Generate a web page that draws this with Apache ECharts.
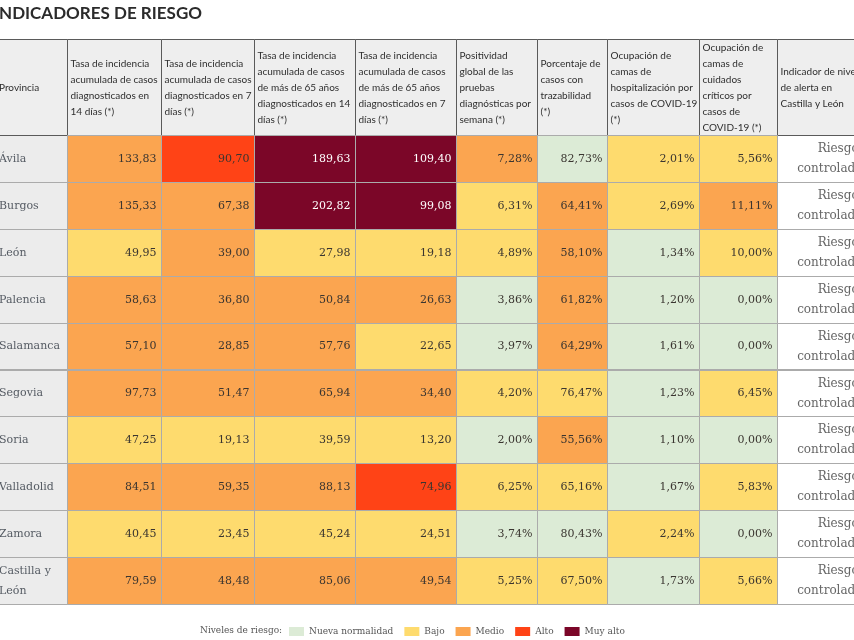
<!DOCTYPE html>
<html><head><meta charset="utf-8">
<script src="https://cdn.jsdelivr.net/npm/echarts@6/dist/echarts.min.js"></script>
<style>html,body{margin:0;padding:0;background:#fff;overflow:hidden}#c{width:854px;height:640px}</style>
</head><body><div id="c"></div>
<script>
// ---- data ----
const provinces = ['Ávila','Burgos','León','Palencia','Salamanca','Segovia','Soria','Valladolid','Zamora','Castilla y León'];
const incid14      = [133.83,135.33,49.95,58.63,57.10,97.73,47.25,84.51,40.45,79.59];
const incid7       = [90.70,67.38,39.00,36.80,28.85,51.47,19.13,59.35,23.45,48.48];
const incid65_14   = [189.63,202.82,27.98,50.84,57.76,65.94,39.59,88.13,45.24,85.06];
const incid65_7    = [109.40,99.08,19.18,26.63,22.65,34.40,13.20,74.96,24.51,49.54];
const positividad  = [7.28,6.31,4.89,3.86,3.97,4.20,2.00,6.25,3.74,5.25];
const trazabilidad = [82.73,64.41,58.10,61.82,64.29,76.47,55.56,65.16,80.43,67.50];
const hospital     = [2.01,2.69,1.34,1.20,1.61,1.23,1.10,1.67,2.24,1.73];
const uci          = [5.56,11.11,10.00,0.00,0.00,6.45,0.00,5.83,0.00,5.66];
// risk level per cell: 0 Nueva normalidad, 1 Bajo, 2 Medio, 3 Alto, 4 Muy alto
const lvlIncid14      = [2,2,1,2,2,2,1,2,1,2];
const lvlIncid7       = [3,2,2,2,2,2,1,2,1,2];
const lvlIncid65_14   = [4,4,1,2,2,2,1,2,1,2];
const lvlIncid65_7    = [4,4,1,2,1,2,1,3,1,2];
const lvlPositividad  = [2,1,1,0,0,1,0,1,0,1];
const lvlTrazabilidad = [0,2,2,2,2,1,2,1,0,1];
const lvlHospital     = [1,1,0,0,0,0,0,0,1,0];
const lvlUci          = [1,2,1,0,0,1,0,1,0,1];
const alerta = ['Riesgo controlado','Riesgo controlado','Riesgo controlado','Riesgo controlado','Riesgo controlado','Riesgo controlado','Riesgo controlado','Riesgo controlado','Riesgo controlado','Riesgo controlado'];
const levelNames = ['Nueva normalidad','Bajo','Medio','Alto','Muy alto'];
const headers = [
  'Provincia',
  'Tasa de incidencia\nacumulada de casos\ndiagnosticados en\n14 días (*)',
  'Tasa de incidencia\nacumulada de casos\ndiagnosticados en 7\ndías (*)',
  'Tasa de incidencia\nacumulada de casos\nde más de 65 años\ndiagnosticados en 14\ndías (*)',
  'Tasa de incidencia\nacumulada de casos\nde más de 65 años\ndiagnosticados en 7\ndías (*)',
  'Positividad\nglobal de las\npruebas\ndiagnósticas por\nsemana (*)',
  'Porcentaje de\ncasos con\ntrazabilidad\n(*)',
  'Ocupación de\ncamas de\nhospitalización por\ncasos de COVID-19\n(*)',
  'Ocupación de\ncamas de\ncuidados\ncríticos por\ncasos de\nCOVID-19 (*)',
  'Indicador de nivel\nde alerta en\nCastilla y León'
];

// ---- layout / style ----
const levelColors = ['#dcebd6','#fedb6e','#fba550','#ff4316','#7b0628'];
const colEdges = [-3, 67, 161, 254, 355, 456, 537, 607, 699, 777, 872];
const valueCols = [
  {vals: incid14, lvls: lvlIncid14, pct: false},
  {vals: incid7, lvls: lvlIncid7, pct: false},
  {vals: incid65_14, lvls: lvlIncid65_14, pct: false},
  {vals: incid65_7, lvls: lvlIncid65_7, pct: false},
  {vals: positividad, lvls: lvlPositividad, pct: true},
  {vals: trazabilidad, lvls: lvlTrazabilidad, pct: true},
  {vals: hospital, lvls: lvlHospital, pct: true},
  {vals: uci, lvls: lvlUci, pct: true}
];
const fmt = (v, pct) => v.toFixed(2).replace('.', ',') + (pct ? '%' : '');
const SERIF = '"DejaVu Serif", serif';
const SANS = 'Lato, "Noto Sans", sans-serif';

function cellRect(api, c, r) {
  const p0 = api.coord([colEdges[c], r]);
  const p1 = api.coord([colEdges[c + 1], r]);
  const h = api.size([0, 1])[1];
  const x0 = Math.round(p0[0]) + 0.5, x1 = Math.round(p1[0]) + 0.5;
  const y0 = Math.round(p0[1] - h / 2) + 0.5, y1 = Math.round(p0[1] + h / 2) + 0.5;
  return {x: x0, y: y0, width: x1 - x0, height: y1 - y0};
}

const levelData = levelNames.map(() => []);
valueCols.forEach((col, ci) => {
  col.vals.forEach((v, r) => {
    levelData[col.lvls[r]].push({value: [ci + 1, r], txt: fmt(v, col.pct)});
  });
});

function makeLevelSeries(li) {
  const items = levelData[li];
  return {
    type: 'custom', name: levelNames[li], xAxisIndex: 0, yAxisIndex: 0,
    itemStyle: {color: levelColors[li]},
    data: items,
    renderItem: function (params, api) {
      const c = api.value(0), r = api.value(1);
      const s = cellRect(api, c, r);
      return {type: 'group', children: [
        {type: 'rect', shape: s, style: {fill: levelColors[li], stroke: '#ababab', lineWidth: 1}},
        {type: 'text', style: {text: items[params.dataIndex].txt, x: s.x + s.width - 5, y: s.y + s.height / 2,
          align: 'right', verticalAlign: 'middle', font: '11px ' + SERIF, fill: li === 4 ? '#ffffff' : '#3a3530'}}
      ]};
    }
  };
}

const provData = provinces.map((p, r) => ({value: [0, r], txt: p}));
const alertData = alerta.map((a, r) => ({value: [9, r], txt: a}));
const headerData = headers.map((h, c) => ({value: [c, 0], txt: h}));

const series = [
  {
    type: 'custom', name: 'Provincia', xAxisIndex: 0, yAxisIndex: 0, data: provData,
    renderItem: function (params, api) {
      const s = cellRect(api, 0, api.value(1));
      return {type: 'group', children: [
        {type: 'rect', shape: s, style: {fill: '#ececec', stroke: '#ababab', lineWidth: 1}},
        {type: 'text', style: {text: provData[params.dataIndex].txt, x: -1, y: s.y + s.height / 2,
          width: 66, overflow: 'break', lineHeight: 20,
          align: 'left', verticalAlign: 'middle', font: '11px ' + SERIF, fill: '#555b63'}}
      ]};
    }
  },
  {
    type: 'custom', name: 'Indicador', xAxisIndex: 0, yAxisIndex: 0, data: alertData,
    renderItem: function (params, api) {
      const s = cellRect(api, 9, api.value(1));
      return {type: 'group', children: [
        {type: 'rect', shape: s, style: {fill: '#ffffff', stroke: '#ababab', lineWidth: 1}},
        {type: 'text', style: {text: alertData[params.dataIndex].txt, x: s.x + s.width - 10, y: s.y + s.height / 2,
          width: 80, overflow: 'break', lineHeight: 20,
          align: 'right', verticalAlign: 'middle', font: '12px ' + SERIF, fill: '#666666'}}
      ]};
    }
  },
  {
    type: 'custom', name: 'Cabecera', xAxisIndex: 1, yAxisIndex: 1, data: headerData,
    renderItem: function (params, api) {
      const c = api.value(0);
      const s = cellRect(api, c, 0);
      return {type: 'group', children: [
        {type: 'rect', shape: s, style: {fill: '#eeeeee', stroke: '#5a5a5a', lineWidth: 1}},
        {type: 'text', style: {text: headerData[params.dataIndex].txt, x: (c === 0 ? -1 : s.x + 3), y: s.y + s.height / 2,
          lineHeight: 16, align: 'left', verticalAlign: 'middle', font: '10px ' + SANS, fill: '#2e2e2e'}}
      ]};
    }
  }
];
levelNames.forEach((n, i) => series.push(makeLevelSeries(i)));

const chart = echarts.init(document.getElementById('c'), null, {renderer: 'canvas'});
chart.setOption({
  animation: false,
  title: [
    {text: 'INDICADORES DE RIESGO', left: -11, top: 0, textStyle: {fontFamily: SANS, fontWeight: 'bold', fontSize: 17, color: '#2b2b2b'}},
    {text: 'Niveles de riesgo:', left: 195, top: 621, textStyle: {fontFamily: SERIF, fontWeight: 'normal', fontSize: 9, color: '#555555'}}
  ],
  legend: {
    data: levelNames, left: 284, top: 622, icon: 'rect', itemWidth: 15, itemHeight: 9, itemGap: 11,
    textStyle: {fontFamily: SERIF, fontSize: 9, color: '#555555'}
  },
  grid: [
    {left: 0, right: 0, top: 135, height: 469},
    {left: 0, right: 0, top: 39, height: 96}
  ],
  xAxis: [
    {type: 'value', min: 0, max: 854, show: false, gridIndex: 0},
    {type: 'value', min: 0, max: 854, show: false, gridIndex: 1}
  ],
  yAxis: [
    {type: 'category', data: provinces, inverse: true, show: false, gridIndex: 0},
    {type: 'category', data: ['cabecera'], show: false, gridIndex: 1}
  ],
  series: series
});
</script></body></html>
